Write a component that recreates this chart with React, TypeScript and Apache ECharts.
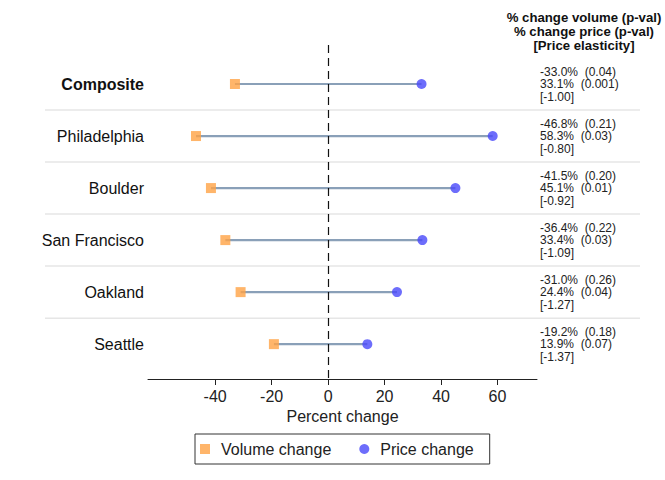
import React, { useEffect, useRef } from "react";
import * as echarts from "echarts";

const cities = ["Composite", "Philadelphia", "Boulder", "San Francisco", "Oakland", "Seattle"];
const volumeChange = [-33.0, -46.8, -41.5, -36.4, -31.0, -19.2];
const priceChange = [33.1, 58.3, 45.1, 33.4, 24.4, 13.9];
const volumePval = ["0.04", "0.21", "0.20", "0.22", "0.26", "0.18"];
const pricePval = ["0.001", "0.03", "0.01", "0.03", "0.04", "0.07"];
const elasticity = ["-1.00", "-0.80", "-0.92", "-1.09", "-1.27", "-1.37"];
const xTicks = [-40, -20, 0, 20, 40, 60];
const headerLines = ["% change volume (p-val)", "% change price (p-val)", "[Price elasticity]"];

const FONT = "'Liberation Sans', Arial, Helvetica, sans-serif";
const ORANGE = "#ffa245";
const BLUE = "#4848fa";
const STEM = "#8aa0b8";

export default function App() {
  const ref = useRef<HTMLDivElement>(null);

  useEffect(() => {
    if (!ref.current) return;
    const chart = echarts.init(ref.current, null, { renderer: "svg" });
    const rows = cities.map((_, i) => i);

    chart.setOption({
      animation: false,
      textStyle: { fontFamily: FONT },
      grid: { left: 148, right: 128, top: 45, bottom: 101 },
      xAxis: {
        type: "value",
        min: -63.8,
        max: 74,
        splitLine: { show: false },
        axisLine: { show: true, onZero: false, lineStyle: { color: "#222", width: 1 } },
        axisTick: { show: true, customValues: xTicks, length: 6, lineStyle: { color: "#222" } },
        axisLabel: { customValues: xTicks, fontSize: 16, color: "#222", margin: 9, fontFamily: FONT },
        name: "Percent change",
        nameLocation: "middle",
        nameGap: 28,
        nameTextStyle: { fontSize: 16, color: "#222", fontFamily: FONT },
      },
      yAxis: {
        type: "value",
        inverse: true,
        min: -0.75,
        max: 5.67,
        splitLine: { show: false },
        axisLine: { show: false },
        axisTick: { show: false },
        axisLabel: {
          customValues: rows,
          margin: 4,
          fontSize: 16,
          color: "#111",
          fontFamily: FONT,
          formatter: (v: number) => (v === 0 ? `{b|${cities[v]}}` : cities[v] ?? ""),
          rich: { b: { fontWeight: "bold", fontSize: 16, fontFamily: FONT, color: "#111" } },
        },
      },
      legend: {
        left: 195,
        top: 434,
        itemWidth: 10,
        itemHeight: 10,
        itemGap: 28,
        padding: [7, 16, 7, 5],
        borderColor: "#333",
        borderWidth: 1,
        borderRadius: 0,
        textStyle: { fontSize: 16, color: "#222", fontFamily: FONT, padding: [0, 0, 0, 6] },
        data: [
          { name: "Volume change", icon: "rect" },
          { name: "Price change", icon: "circle" },
        ],
      },
      series: [
        {
          type: "custom",
          name: "stems",
          silent: true,
          data: rows.map((i) => [volumeChange[i], priceChange[i], i]),
          encode: { x: [0, 1], y: 2 },
          renderItem: (_p: any, api: any) => {
            const a = api.coord([api.value(0), api.value(2)]);
            const b = api.coord([api.value(1), api.value(2)]);
            return {
              type: "line",
              shape: { x1: a[0], y1: a[1], x2: b[0], y2: b[1] },
              style: { stroke: STEM, lineWidth: 2.2 },
            };
          },
          markLine: {
            silent: true,
            symbol: "none",
            label: { show: false },
            lineStyle: { color: "#111", type: [8, 5], width: 1.2 },
            data: [{ xAxis: 0 }],
          },
          z: 1,
        },
        {
          type: "scatter",
          name: "Volume change",
          symbol: "rect",
          symbolSize: 10,
          itemStyle: { color: ORANGE },
          data: rows.map((i) => [volumeChange[i], i]),
          z: 3,
        },
        {
          type: "scatter",
          name: "Price change",
          symbol: "circle",
          symbolSize: 10,
          itemStyle: { color: BLUE },
          data: rows.map((i) => [priceChange[i], i]),
          z: 3,
        },
      ],
    });

    // Row separators and the annotation column on the right
    const graphics: any[] = [];
    for (let i = 0; i < cities.length - 1; i++) {
      const y = chart.convertToPixel({ yAxisIndex: 0 }, i + 0.5) as number;
      graphics.push({
        type: "line",
        silent: true,
        z: 0,
        shape: { x1: 45, y1: y, x2: 640, y2: y },
        style: { stroke: "#e6e6e6", lineWidth: 1.5 },
      });
    }
    headerLines.forEach((t, k) => {
      graphics.push({
        type: "text",
        x: 584,
        y: 18 + k * 14,
        scaleX: 1.1,
        style: {
          text: t,
          align: "center",
          verticalAlign: "middle",
          fontSize: 12,
          fontWeight: "bold",
          fontFamily: FONT,
          fill: "#111",
        },
      });
    });
    rows.forEach((i) => {
      const y = chart.convertToPixel({ yAxisIndex: 0 }, i) as number;
      const lines = [
        `${volumeChange[i].toFixed(1)}%  (${volumePval[i]})`,
        `${priceChange[i].toFixed(1)}%  (${pricePval[i]})`,
        `[${elasticity[i]}]`,
      ];
      graphics.push({
        type: "text",
        x: 540,
        y,
        style: {
          text: lines.join("\n"),
          align: "left",
          verticalAlign: "middle",
          fontSize: 12,
          lineHeight: 12.5,
          fontFamily: FONT,
          fill: "#222",
        },
      });
    });
    chart.setOption({ graphic: graphics });

    return () => chart.dispose();
  }, []);

  return (
    <div
      ref={ref}
      style={{ position: "absolute", left: 0, top: 0, width: 665, height: 480 }}
    />
  );
}
